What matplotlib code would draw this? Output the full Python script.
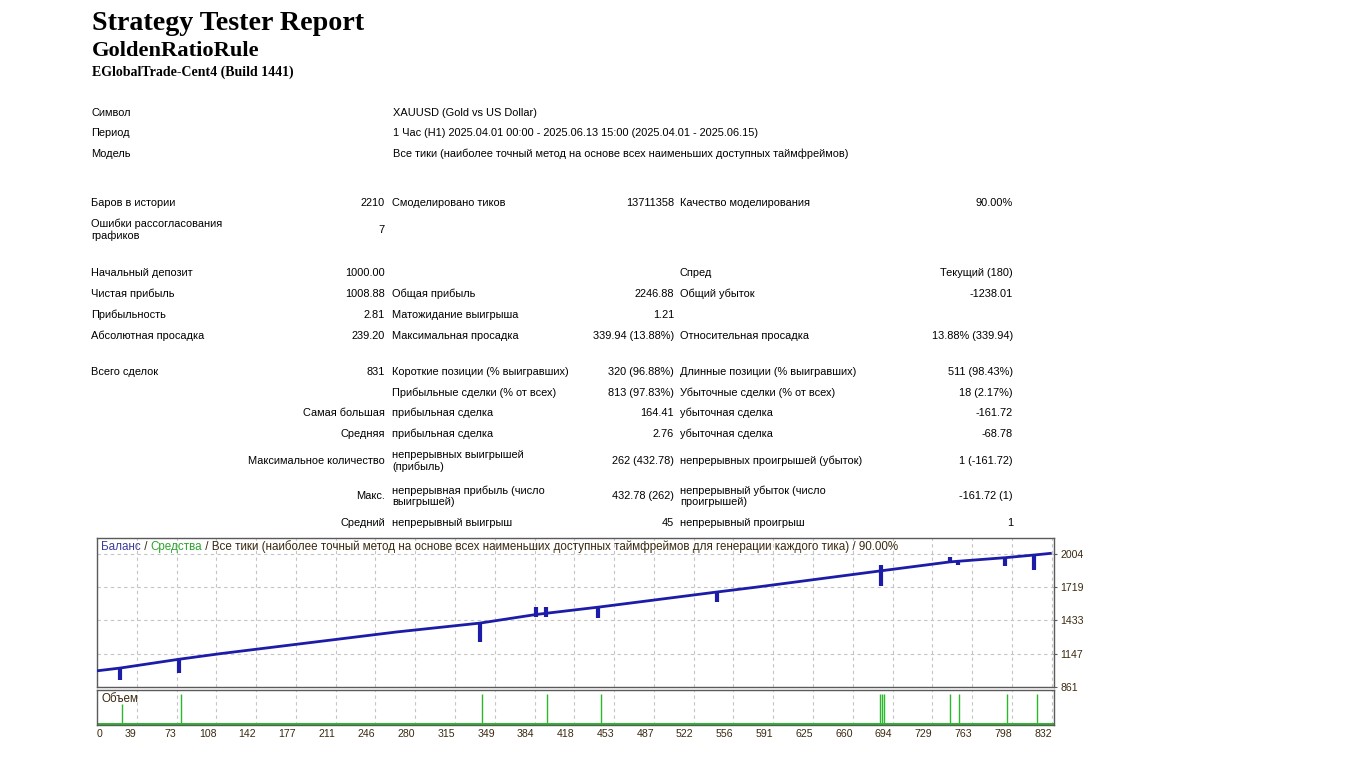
import matplotlib
matplotlib.use('Agg')
import matplotlib.pyplot as plt
import numpy as np

W, H = 1366, 770

#%% report data
title = 'Strategy Tester Report'
ea_name = 'GoldenRatioRule'
server = 'EGlobalTrade-Cent4 (Build 1441)'

info_labels = ['Символ', 'Период', 'Модель']
info_values = ['XAUUSD (Gold vs US Dollar)',
               '1 Час (H1) 2025.04.01 00:00 - 2025.06.13 15:00 (2025.04.01 - 2025.06.15)',
               'Все тики (наиболее точный метод на основе всех наименьших доступных таймфреймов)']

col1_labels = ['Баров в истории', 'Ошибки рассогласования\nграфиков', 'Начальный депозит',
               'Чистая прибыль', 'Прибыльность', 'Абсолютная просадка', 'Всего сделок',
               '', '', '', '', '', '']
col1_values = ['2210', '7', '1000.00', '1008.88', '2.81', '239.20', '831',
               '', 'Самая большая', 'Средняя', 'Максимальное количество', 'Макс.', 'Средний']
col2_labels = ['Смоделировано тиков', '', '', 'Общая прибыль', 'Матожидание выигрыша',
               'Максимальная просадка', 'Короткие позиции (% выигравших)',
               'Прибыльные сделки (% от всех)', 'прибыльная сделка', 'прибыльная сделка',
               'непрерывных выигрышей\n(прибыль)', 'непрерывная прибыль (число\nвыигрышей)',
               'непрерывный выигрыш']
col2_values = ['13711358', '', '', '2246.88', '1.21', '339.94 (13.88%)', '320 (96.88%)',
               '813 (97.83%)', '164.41', '2.76', '262 (432.78)', '432.78 (262)', '45']
col3_labels = ['Качество моделирования', '', 'Спред', 'Общий убыток', '',
               'Относительная просадка', 'Длинные позиции (% выигравших)',
               'Убыточные сделки (% от всех)', 'убыточная сделка', 'убыточная сделка',
               'непрерывных проигрышей (убыток)', 'непрерывный убыток (число\nпроигрышей)',
               'непрерывный проигрыш']
col3_values = ['90.00%', '', 'Текущий (180)', '-1238.01', '', '13.88% (339.94)', '511 (98.43%)',
               '18 (2.17%)', '-161.72', '-68.78', '1 (-161.72)', '-161.72 (1)', '1']

#%% chart data
# balance line corners: trade number, balance
bal_trade = [0, 20.3, 71.1, 107, 261, 333.4, 382.2, 438, 538, 574, 680, 742.6, 790.5, 815.8, 831]
bal_value = [1000, 1024, 1099, 1147, 1334, 1410, 1484, 1549, 1675, 1719, 1856, 1936, 1972, 1995, 2010]
# short-lived jumps of the balance line
spike_trade = [20.3, 71.1, 333.4, 382.2, 390.9, 436.4, 539.5, 682.3, 742.6, 749.3, 790.5, 815.8]
spike_low = [921, 984, 1248, 1466, 1466, 1451, 1589, 1732, 1936, 1912, 1903, 1866]
spike_high = [1024, 1099, 1410, 1550, 1550, 1547, 1677, 1912, 1980, 1940, 1972, 1995]

# volume panel: trades with a raised lot
vol_trade = [22, 72.9, 335.4, 391.5, 438.5, 681.7, 683.2, 685.4, 742.6, 750.6, 792.5, 818.1]
vol_lots = [0.18, 0.27, 0.27, 0.27, 0.27, 0.27, 0.27, 0.27, 0.27, 0.27, 0.27, 0.27]
base_lot = 0.02
n_trades = 831

y_ticks = [861, 1147, 1433, 1719, 2004]
x_tick_labels = ['0', '39', '73', '108', '142', '177', '211', '246', '280', '315', '349', '384',
                 '418', '453', '487', '522', '556', '591', '625', '660', '694', '729', '763',
                 '798', '832']

#%% styles
plt.rcParams['font.family'] = ['Liberation Sans', 'DejaVu Sans']
TXT = 7.95
CH_TXT = 8.4
BAL_C = '#1c1ca8'
VOL_C = '#2cb82c'
GRID_C = '#c4c4c4'
FRAME_C = '#5a5a5a'
LBL_C = '#3a2a10'

fig = plt.figure(figsize=(W / 100, H / 100), dpi=100)
fig.patch.set_facecolor('white')


def px(x, y):
    return x / W, 1 - y / H


# header
fig.text(*px(92, 24), title, family='Liberation Serif', weight='bold', fontsize=20.2, va='center')
fig.text(*px(92, 51), ea_name, family='Liberation Serif', weight='bold', fontsize=16.2, va='center')
fig.text(*px(92, 72), server, family='Liberation Serif', weight='bold', fontsize=10, va='center')

for i, (lab, val) in enumerate(zip(info_labels, info_values)):
    y = [113, 133, 154][i]
    fig.text(*px(91, y), lab, fontsize=TXT, va='center')
    fig.text(*px(393, y), val, fontsize=TXT, va='center')

row_y = [203, 230, 273, 294, 315, 336, 372, 393, 413, 434, 461, 496, 523]
for i, y in enumerate(row_y):
    fig.text(*px(91, y), col1_labels[i], fontsize=TXT, va='center', linespacing=1.15)
    fig.text(*px(385, y), col1_values[i], fontsize=TXT, va='center', ha='right')
    fig.text(*px(392, y), col2_labels[i], fontsize=TXT, va='center', linespacing=1.15)
    fig.text(*px(674, y), col2_values[i], fontsize=TXT, va='center', ha='right')
    fig.text(*px(680, y), col3_labels[i], fontsize=TXT, va='center', linespacing=1.15)
    fig.text(*px(1013, y), col3_values[i], fontsize=TXT, va='center', ha='right')

#%% balance chart
L, R = 97, 1054
ax = fig.add_axes([L / W, 1 - 687 / H, (R - L) / W, (687 - 538) / H])
axv = fig.add_axes([L / W, 1 - 725 / H, (R - L) / W, (725 - 690) / H])

x_pos = np.linspace(0, n_trades, len(x_tick_labels))
for a in (ax, axv):
    a.set_xlim(0, 833)
    a.set_xticks(x_pos)
    for s in a.spines.values():
        s.set_color(FRAME_C)
        s.set_linewidth(1.0)
    a.grid(True, axis='x', color=GRID_C, linestyle=(0, (3, 3)), linewidth=0.8)
    a.set_axisbelow(True)

ax.plot(bal_trade, bal_value, color=BAL_C, lw=2.0, solid_capstyle='butt', zorder=3)
ax.vlines(spike_trade, spike_low, spike_high, color=BAL_C, lw=3.0, zorder=3)
ax.set_ylim(861, 2141)
ax.set_yticks(y_ticks)
ax.yaxis.tick_right()
ax.tick_params(axis='y', length=2.5, width=0.8, color=FRAME_C, pad=2,
               labelsize=7.6, labelcolor=LBL_C)
ax.tick_params(axis='x', length=0, labelbottom=False)
ax.grid(True, axis='y', color=GRID_C, linestyle=(0, (3, 3)), linewidth=0.8)

# legend line of the chart, several colours
t = ax.text(4 / (R - L), 1 - 9 / 149, 'Баланс', transform=ax.transAxes, fontsize=CH_TXT,
            color='#3b3ba0', va='center')
for part, col in [(' / ', LBL_C), ('Средства', '#2aa52a'),
                  (' / Все тики (наиболее точный метод на основе всех наименьших доступных '
                   'таймфреймов для генерации каждого тика) / 90.00%', LBL_C)]:
    t = ax.annotate(part, xy=(1, 0), xycoords=t, va='bottom', fontsize=CH_TXT, color=col)

#%% volume panel
axv.fill_between([0, 833], 0, base_lot, color=VOL_C, lw=0)
axv.vlines(vol_trade, 0, vol_lots, color=VOL_C, lw=1.0)
axv.set_ylim(0, 0.3)
axv.set_yticks([])
axv.set_xticklabels(x_tick_labels)
axv.tick_params(axis='x', length=0, pad=3, labelsize=7.6, labelcolor=LBL_C)
for k, lab in enumerate(axv.get_xticklabels()):
    lab.set_ha('left' if k == 0 else 'right')
axv.text(4 / (R - L), 1 - 9 / 35, 'Объем', transform=axv.transAxes, fontsize=CH_TXT,
         color=LBL_C, va='center')

fig.savefig('out.png', dpi=100)
